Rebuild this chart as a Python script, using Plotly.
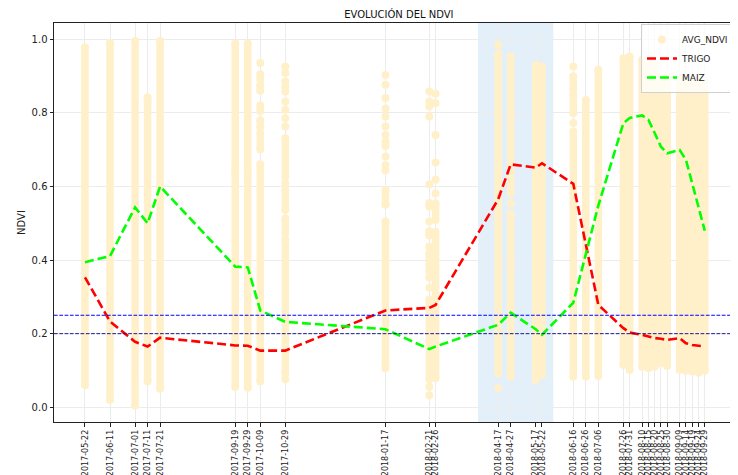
import plotly.graph_objects as go

dates = ["2017-05-22", "2017-06-11", "2017-07-01", "2017-07-11", "2017-07-21",
         "2017-09-19", "2017-09-29", "2017-10-09", "2017-10-29", "2018-01-17",
         "2018-02-21", "2018-02-26", "2018-04-17", "2018-04-27", "2018-05-17",
         "2018-05-22", "2018-06-16", "2018-06-26", "2018-07-06", "2018-07-26",
         "2018-07-31", "2018-08-10", "2018-08-15", "2018-08-20", "2018-08-25",
         "2018-08-30", "2018-09-09", "2018-09-14", "2018-09-19", "2018-09-24",
         "2018-09-29"]

trigo = [0.353, 0.233, 0.178, 0.165, 0.189, 0.168, 0.167, 0.154, 0.154, 0.263,
         0.270, 0.278, 0.565, 0.660, 0.651, 0.663, 0.607, 0.440, 0.278, 0.215,
         0.203, 0.197, 0.192, 0.188, 0.186, 0.183, 0.188, 0.174, 0.169, 0.167,
         0.165]

maiz = [0.394, 0.411, 0.543, 0.500, 0.600, 0.382, 0.380, 0.263, 0.232, 0.212,
        0.158, 0.165, 0.224, 0.257, 0.212, 0.197, 0.284, 0.420, 0.548, 0.772,
        0.786, 0.793, 0.781, 0.745, 0.708, 0.690, 0.699, 0.672, 0.609, 0.545,
        0.480]

# AVG_NDVI: dense runs of overlapping dots (lo, hi) and isolated dots, per date
ndvi_runs = [
    [(0.06, 0.978)],
    [(0.02, 0.99)],
    [(0.005, 0.995)],
    [(0.07, 0.835)],
    [(0.05, 0.995)],
    [(0.055, 0.635), (0.645, 0.988)],
    [(0.053, 0.63), (0.64, 0.988)],
    [(0.07, 0.66), (0.70, 0.745), (0.76, 0.78), (0.805, 0.82), (0.86, 0.875), (0.89, 0.905)],
    [(0.627, 0.731), (0.536, 0.59), (0.473, 0.513), (0.092, 0.455)],
    [(0.710, 0.722), (0.55, 0.59), (0.106, 0.505)],
    [(0.545, 0.555), (0.467, 0.478), (0.383, 0.419), (0.076, 0.293)],
    [(0.509, 0.554), (0.079, 0.477)],
    [(0.092, 0.962)],
    [(0.581, 0.953), (0.083, 0.527)],
    [(0.074, 0.930)],
    [(0.088, 0.926)],
    [(0.863, 0.899), (0.799, 0.849), (0.083, 0.749)],
    [(0.083, 0.835)],
    [(0.085, 0.917)],
    [(0.115, 0.948)],
    [(0.101, 0.953)],
    [(0.110, 0.944)],
    [(0.106, 0.935)],
    [(0.110, 0.935)],
    [(0.120, 0.894)],
    [(0.112, 0.899)],
    [(0.101, 0.891)],
    [(0.099, 0.894)],
    [(0.097, 0.889)],
    [(0.094, 0.889)],
    [(0.099, 0.885)],
]

ndvi_dots = [
    [], [], [], [0.842], [], [], [],
    [0.935],
    [0.926, 0.908, 0.885, 0.871, 0.858, 0.831, 0.808, 0.785, 0.763, 0.609, 0.076],
    [0.903, 0.876, 0.840, 0.812, 0.790, 0.763, 0.740, 0.681, 0.658, 0.643],
    [0.858, 0.831, 0.817, 0.790, 0.605, 0.505, 0.437, 0.370, 0.352, 0.325, 0.056, 0.033],
    [0.852, 0.826, 0.740, 0.665, 0.618, 0.581],
    [0.985, 0.052],
    [0.554],
    [], [],
    [0.926, 0.772],
    [], [], [], [], [], [], [], [], [], [], [], [], [], [],
]

upper_threshold = 0.25
lower_threshold = 0.20
season_start = "2018-04-01"
season_end = "2018-05-31"

DOT = "#FFF0C9"
FONT = "DejaVu Sans"

run_x, run_y = [], []
for d, runs in zip(dates, ndvi_runs):
    for lo, hi in runs:
        run_x += [d, d, None]
        run_y += [lo, hi, None]

dot_x, dot_y = [], []
for d, vals in zip(dates, ndvi_dots):
    for v in vals:
        dot_x.append(d)
        dot_y.append(v)

fig = go.Figure()
fig.add_trace(go.Scatter(x=run_x, y=run_y, mode="lines+markers",
                         line=dict(color=DOT, width=7.5),
                         marker=dict(color=DOT, size=8),
                         showlegend=False, hoverinfo="skip"))
fig.add_trace(go.Scatter(x=dot_x, y=dot_y, mode="markers", name="AVG_NDVI",
                         marker=dict(color=DOT, size=8)))
fig.add_trace(go.Scatter(x=dates, y=trigo, mode="lines", name="TRIGO",
                         line=dict(color="#FF0000", width=2.6, dash="9px,4px")))
fig.add_trace(go.Scatter(x=dates, y=maiz, mode="lines", name="MAIZ",
                         line=dict(color="#00FF00", width=2.6, dash="9px,4px")))

fig.add_shape(type="rect", xref="x", yref="paper", x0=season_start, x1=season_end,
              y0=0, y1=1, fillcolor="#E3F0FA", line=dict(width=0), layer="below")
fig.add_shape(type="line", xref="paper", yref="y", x0=0, x1=1,
              y0=upper_threshold, y1=upper_threshold,
              line=dict(color="#0000FF", width=1, dash="3.7px,1.6px"))
fig.add_shape(type="line", xref="paper", yref="y", x0=0, x1=1,
              y0=lower_threshold, y1=lower_threshold,
              line=dict(color="#1a1a90", width=1, dash="3.7px,1.6px"))

# page body has an 8px margin, so the figure is 8px smaller than the window
fig.update_layout(
    template="none",
    width=730, height=467,
    margin=dict(l=46, r=1, t=15, b=53),
    paper_bgcolor="white", plot_bgcolor="white",
    font=dict(family=FONT, size=10, color="#222222"),
    title=dict(text="EVOLUCIÓN DEL NDVI", x=0.5355, xanchor="center",
               y=0.987, yanchor="middle", font=dict(family=FONT, size=10, color="#111111")),
    showlegend=True,
    legend=dict(x=0.9956, y=0.9975, xanchor="right", yanchor="top",
                bgcolor="rgba(255,255,255,0.8)", bordercolor="#d0d0d0", borderwidth=1,
                font=dict(family=FONT, size=9, color="#222222"),
                itemwidth=30, tracegroupgap=0),
)

fig.update_xaxes(
    type="date",
    range=["2017-04-27 06:00", "2018-10-24 18:00"],
    tickvals=dates, ticktext=dates, tickangle=-90,
    ticks="outside", ticklen=3.5, tickcolor="#222222",
    showgrid=True, gridcolor="#ececec", gridwidth=1,
    showline=True, linecolor="#222222", linewidth=1, mirror=True,
    zeroline=False, automargin=False,
    tickfont=dict(family=FONT, size=8, color="#222222"),
)
fig.update_yaxes(
    range=[-0.04, 1.044],
    tickvals=[0.0, 0.2, 0.4, 0.6, 0.8, 1.0], tickformat=".1f",
    ticks="outside", ticklen=3.5, tickcolor="#222222",
    showgrid=True, gridcolor="#ececec", gridwidth=1,
    showline=True, linecolor="#222222", linewidth=1, mirror=True,
    zeroline=False, automargin=False,
    title=dict(text="NDVI", standoff=4, font=dict(family=FONT, size=10)),
    tickfont=dict(family=FONT, size=10, color="#222222"),
)

fig.write_html("out.html")
